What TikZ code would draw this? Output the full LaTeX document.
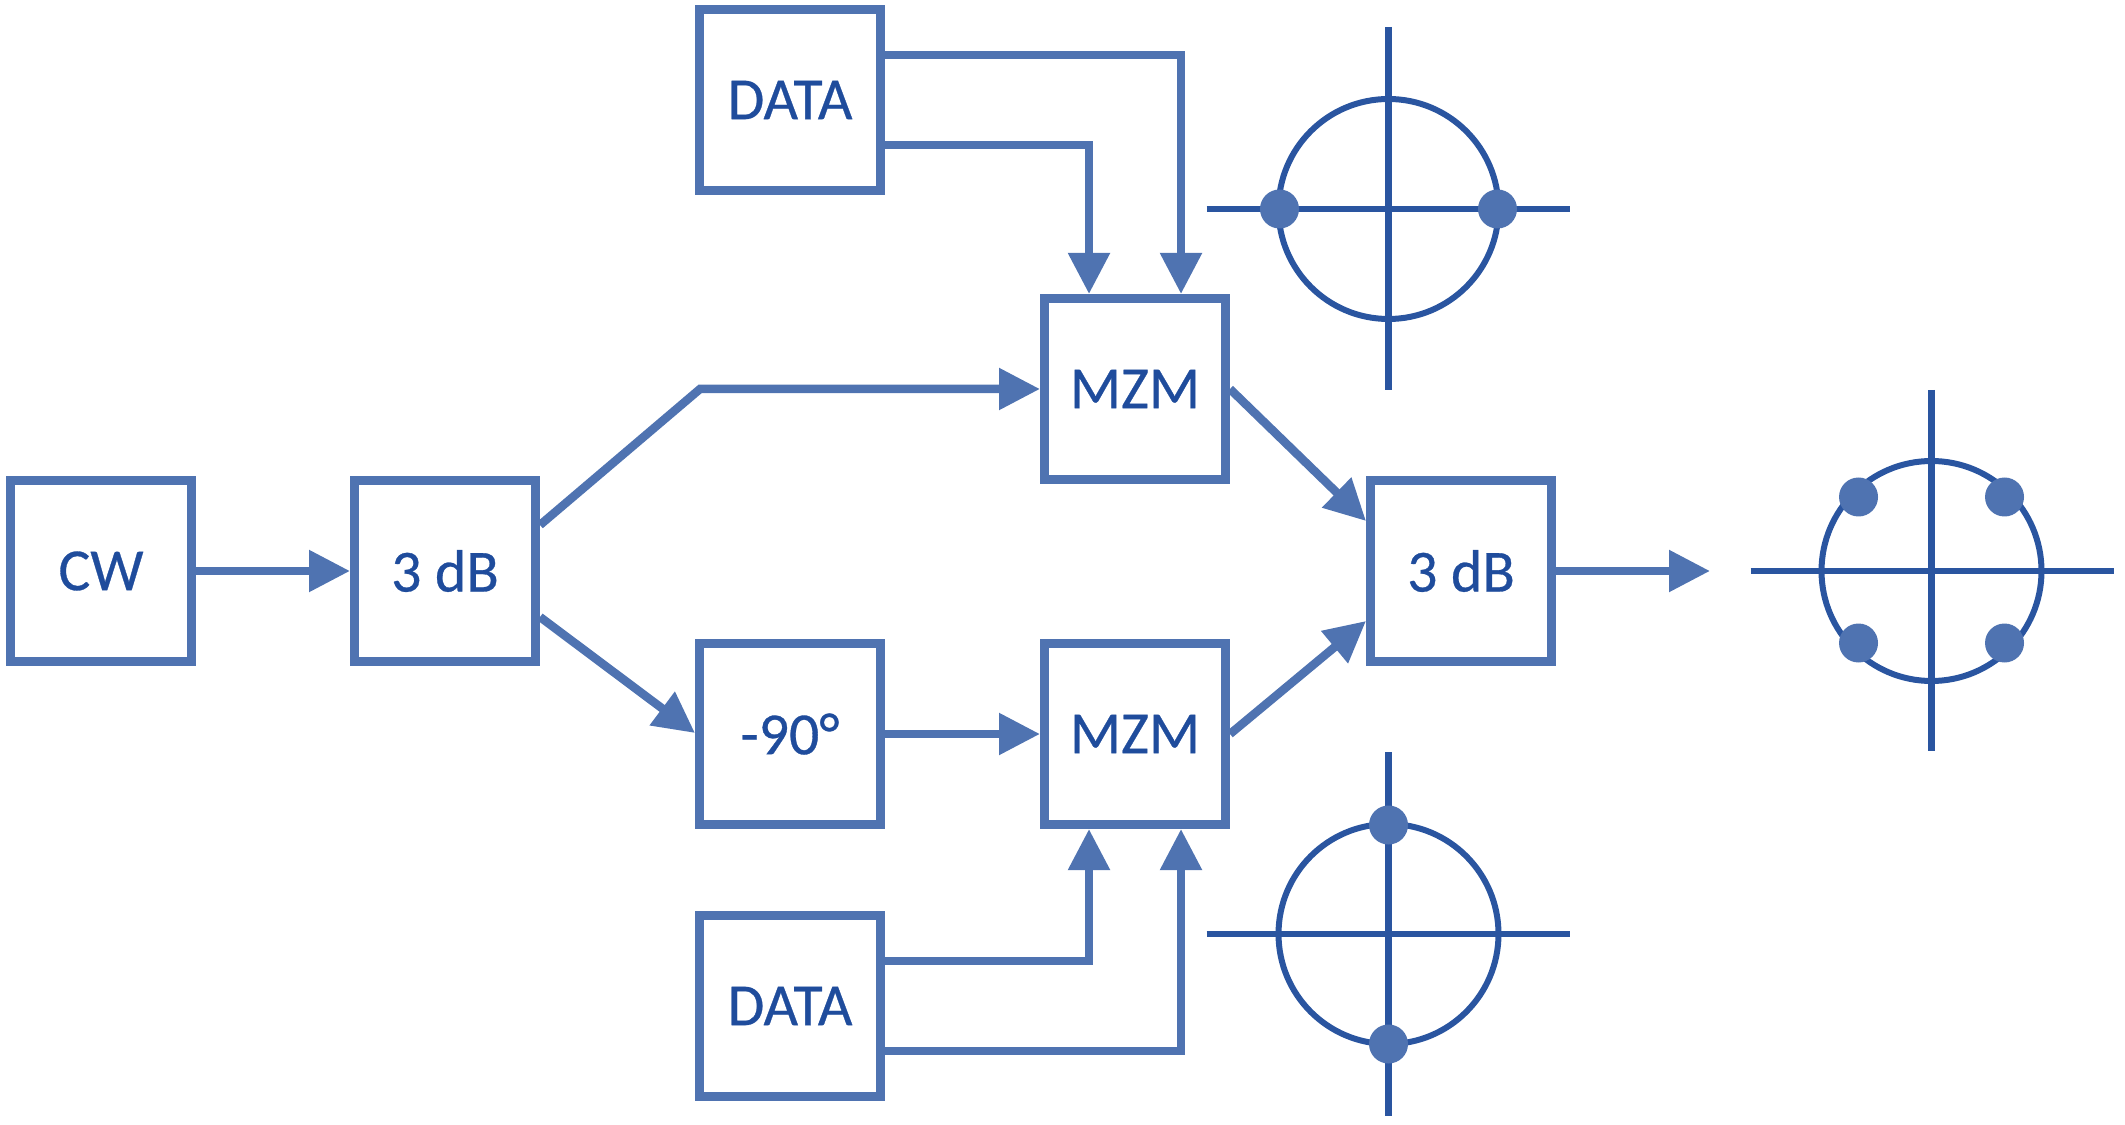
\documentclass[tikz,border=0pt]{standalone}
\usepackage{fontspec}
\setmainfont[FakeBold=0.5]{Carlito}
\usetikzlibrary{arrows.meta}
\definecolor{boxblue}{HTML}{4F73B1}
\definecolor{inkblue}{HTML}{2A55A0}
\definecolor{textblue}{HTML}{1F4C9C}
\tikzset{
  blockbox/.style={draw=boxblue,line width=0.18cm,minimum size=3.62cm,inner sep=0pt,
    text=textblue,font=\fontsize{34}{40}\selectfont},
  ringmark/.style={circle,draw=inkblue,line width=0.12cm,minimum size=4.4cm,inner sep=0pt},
  dotmark/.style={circle,fill=boxblue,minimum size=0.78cm,inner sep=0pt},
  axisline/.style={draw=inkblue,line width=0.13cm},
  signal/.style={draw=boxblue,line width=0.17cm},
  signaltip/.style={signal,-{Triangle[length=0.82cm,width=0.8cm]}}
}
\begin{document}
\begin{tikzpicture}
      \useasboundingbox (0,0) rectangle (42.5,-22.5);
      \draw
        (2.02,-11.42) node[blockbox] (cw){CW}
        (8.90,-11.42) node[blockbox] (split){3 dB}
        (15.80,-2.00) node[blockbox] (dataTop){DATA}
        (15.80,-14.68) node[blockbox] (phase){-90°}
        (15.80,-20.12) node[blockbox] (dataLow){DATA}
        (22.70,-7.78) node[blockbox] (mzmTop){MZM}
        (22.70,-14.68) node[blockbox] (mzmLow){MZM}
        (29.22,-11.42) node[blockbox] (combiner){3 dB};
      \coordinate (bend) at (14.0,-7.78);
      \coordinate (out) at (34.2,-11.42);
      \begin{scope}[signaltip]
        \draw[signaltip] (cw) to (split);
        \draw[signaltip] ([yshift=0.92cm]split.east) -- (bend) -- (mzmTop.west);
        \draw[signaltip] ([yshift=-0.92cm]split.east) to ([yshift=0.02cm]phase.west);
        \draw[signaltip] (phase) to (mzmLow);
        \draw[signaltip] ([yshift=0.9cm]dataTop.east) -| ([xshift=0.92cm]mzmTop.north);
        \draw[signaltip] ([yshift=-0.9cm]dataTop.east) -| ([xshift=-0.92cm]mzmTop.north);
        \draw[signaltip] ([yshift=0.9cm]dataLow.east) -| ([xshift=-0.92cm]mzmLow.south);
        \draw[signaltip] ([yshift=-0.9cm]dataLow.east) -| ([xshift=0.92cm]mzmLow.south);
        \draw[signaltip] (mzmTop.east) to ([yshift=1cm]combiner.west);
        \draw[signaltip] (mzmLow.east) to ([yshift=-1cm]combiner.west);
        \draw[signaltip] (combiner) to (out);
      \end{scope}
      \draw
        (27.77,-4.18) node[ringmark] (ringTop){}
        (38.63,-11.42) node[ringmark] (ringOut){}
        (27.77,-18.68) node[ringmark] (ringLow){};
      \draw[axisline] ([xshift=-3.64cm]ringTop.center) -- ([xshift=3.62cm]ringTop.center);
      \draw[axisline] ([yshift=3.64cm]ringTop.center) -- ([yshift=-3.62cm]ringTop.center);
      \draw[axisline] ([xshift=-3.62cm]ringOut.center) -- ([xshift=3.64cm]ringOut.center);
      \draw[axisline] ([yshift=3.62cm]ringOut.center) -- ([yshift=-3.60cm]ringOut.center);
      \draw[axisline] ([xshift=-3.64cm]ringLow.center) -- ([xshift=3.62cm]ringLow.center);
      \draw[axisline] ([yshift=3.64cm]ringLow.center) -- ([yshift=-3.64cm]ringLow.center);
      \draw
        (25.59,-4.18) node[dotmark] (topW){}
        (29.95,-4.18) node[dotmark] (topE){}
        (37.17,-9.94) node[dotmark] (outNW){}
        (40.09,-9.94) node[dotmark] (outNE){}
        (37.17,-12.86) node[dotmark] (outSW){}
        (40.09,-12.86) node[dotmark] (outSE){}
        (27.77,-16.50) node[dotmark] (lowN){}
        (27.77,-20.88) node[dotmark] (lowS){};
    \end{tikzpicture}
\end{document}
